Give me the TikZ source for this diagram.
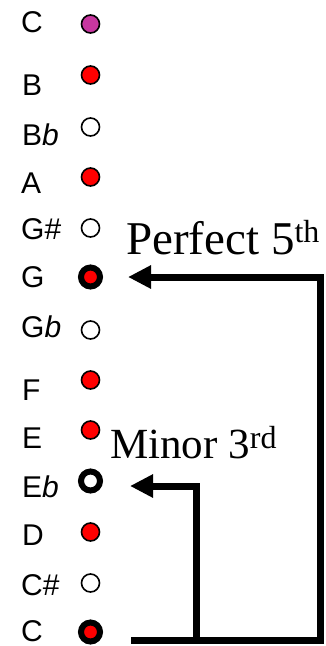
\documentclass[tikz,border=0pt]{standalone}
\usepackage{fontspec}
\setmainfont{Liberation Serif}
\newfontfamily\notefont{Liberation Sans}
\usetikzlibrary{arrows.meta}
\definecolor{tonic}{RGB}{200,55,160}
\tikzset{
  notelabel/.style={anchor=base west, inner sep=0pt, font=\notefont\fontsize{30}{30}\selectfont},
  note/.style={circle, draw=black, line width=1.6pt, minimum size=18pt, inner sep=0pt},
  onnote/.style={note, fill=red},
  offnote/.style={note, fill=white},
  topnote/.style={note, fill=tonic},
  heldnote/.style={circle, draw=black, line width=6pt, minimum size=19pt, inner sep=0pt},
  interval/.style={line width=7pt, line join=miter, line cap=butt,
    -{Triangle[length=23pt,width=22pt]}},
  intervalname/.style={anchor=base west, inner sep=0pt},
}
\begin{document}
\begin{tikzpicture}[x=1pt,y=-1pt]
\useasboundingbox (0,0) rectangle (326,646);

% note names
\node[notelabel] (lC2) at (21,32)  {C};
\node[notelabel] (lB)  at (22,95)  {B};
\node[notelabel] (lBb) at (22,145) {B\textit{b}};
\node[notelabel] (lA)  at (21,193) {A};
\node[notelabel] (lGs) at (21,239) {G\#};
\node[notelabel] (lG)  at (21,287) {G};
\node[notelabel] (lGb) at (21,337) {G\textit{b}};
\node[notelabel] (lF)  at (22,400) {F};
\node[notelabel] (lE)  at (22,448) {E};
\node[notelabel] (lEb) at (22,497) {E\textit{b}};
\node[notelabel] (lD)  at (22,545) {D};
\node[notelabel] (lCs) at (21,595) {C\#};
\node[notelabel] (lC)  at (21,641) {C};

% note markers
\node[topnote]  (C2) at (90.5,24)  {};
\node[onnote]   (B)  at (90.5,75)  {};
\node[offnote]  (Bb) at (90.5,127) {};
\node[onnote]   (A)  at (90.5,177) {};
\node[offnote]  (Gs) at (90.5,228) {};
\node[heldnote, fill=red]   (G)  at (90.5,277) {};
\node[offnote]  (Gb) at (90.5,330) {};
\node[onnote]   (F)  at (90.5,380) {};
\node[onnote]   (E)  at (90.5,430) {};
\node[heldnote, fill=white] (Eb) at (90.5,481) {};
\node[onnote]   (D)  at (90.5,532) {};
\node[offnote]  (Cs) at (90.5,583) {};
\node[heldnote, fill=red]   (C)  at (90.5,632) {};

% interval brackets
\coordinate (base)   at (131,640);
\coordinate (fifthR) at (320,640);
\coordinate (thirdR) at (196,640);
\draw[interval] (base) -- (fifthR) -- (fifthR |- G.center) -- ([xshift=37.5pt]G.center);
\draw[interval] (thirdR) -- (thirdR |- 0,486) -- ([xshift=39.5pt]Eb.center |- 0,486);

% interval names
\node[intervalname, font=\fontsize{47}{47}\selectfont] (fifth) at (126,254)
  {Perfect 5\raisebox{12pt}{\fontsize{32}{32}\selectfont th}};
\node[intervalname, font=\fontsize{43}{43}\selectfont] (third) at (110,458)
  {Minor 3\raisebox{10pt}{\fontsize{32}{32}\selectfont rd}};
\end{tikzpicture}
\end{document}
